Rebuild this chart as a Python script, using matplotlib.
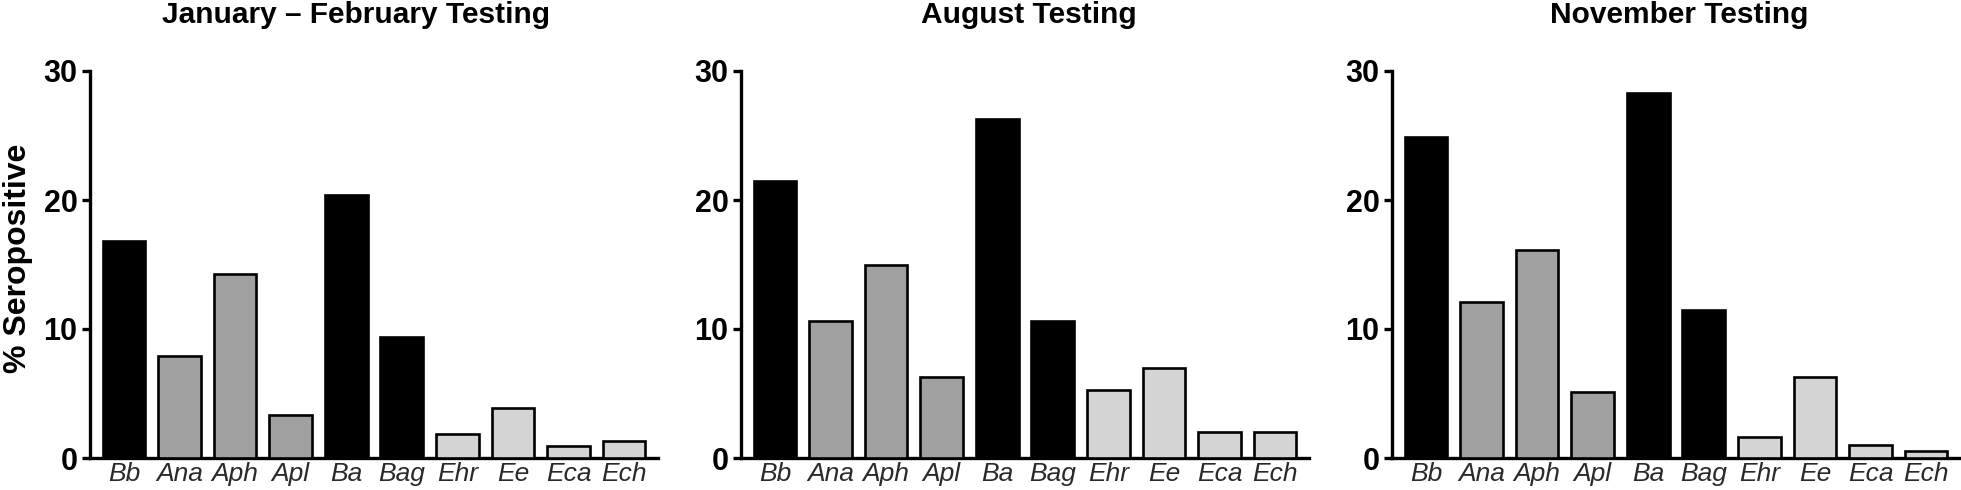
import matplotlib
matplotlib.use("Agg")
import matplotlib.pyplot as plt

# Seropositivity (%) by pathogen for three testing periods
species = ["Bb", "Ana", "Aph", "Apl", "Ba", "Bag", "Ehr", "Ee", "Eca", "Ech"]
titles = ["January \u2013 February Testing", "August Testing", "November Testing"]
jan_feb = [16.8, 7.9, 14.3, 3.35, 20.4, 9.4, 1.85, 3.85, 0.9, 1.35]
august = [21.5, 10.6, 14.95, 6.3, 26.3, 10.6, 5.3, 6.95, 2.0, 2.0]
november = [24.85, 12.1, 16.1, 5.1, 28.3, 11.5, 1.6, 6.3, 1.0, 0.55]
series = [jan_feb, august, november]

BLACK = "#000000"
MID = "#a0a0a0"
LIGHT = "#d4d4d4"
bar_colors = [BLACK, MID, MID, MID, BLACK, BLACK, LIGHT, LIGHT, LIGHT, LIGHT]

plt.rcParams["font.family"] = ["Liberation Sans", "DejaVu Sans"]

fig = plt.figure(figsize=(19.61, 4.90), dpi=100)

W, H = 1961, 490
lefts = [90, 741, 1392]
title_x = [356, 1029, 1679]

for i, vals in enumerate(series):
    ax = fig.add_axes((lefts[i] / W, 32 / H, 568 / W, 387 / H))
    x = range(len(species))
    ax.bar(x, vals, width=0.77, color=bar_colors, edgecolor="black",
           linewidth=1.9, zorder=3)
    ax.set_xlim(-0.61, 9.61)
    ax.set_ylim(0, 30)
    ax.set_yticks([0, 10, 20, 30])
    ax.set_xticks(list(x))
    ax.set_xticklabels(species, fontstyle="italic", fontsize=19, color="#2a2a2a")
    for lab in ax.get_yticklabels():
        lab.set_fontweight("bold")
        lab.set_fontsize(22)
    ax.tick_params(axis="x", length=0, pad=3)
    ax.tick_params(axis="y", length=6, width=2.4, pad=3, direction="out")
    for s in ("top", "right"):
        ax.spines[s].set_visible(False)
    for s in ("left", "bottom"):
        ax.spines[s].set_linewidth(2.4)
        ax.spines[s].set_color("black")
    if i == 0:
        ax.set_ylabel("% Seropositive", fontsize=23, fontweight="bold", va="center")
        ax.yaxis.set_label_coords((18 - 90) / 568, 0.515)
    fig.text(title_x[i] / W, (H - 23) / H, titles[i], ha="center", va="baseline",
             fontsize=21.5, fontweight="bold")

fig.savefig("out.png", dpi=100, facecolor="white")
